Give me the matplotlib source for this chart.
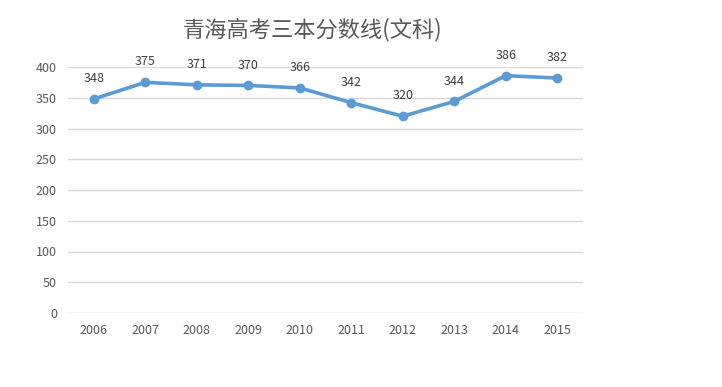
import matplotlib
matplotlib.use("Agg")
import matplotlib.pyplot as plt

plt.rcParams['font.family'] = ['Noto Sans CJK SC', 'DejaVu Sans']

years = ['2006', '2007', '2008', '2009', '2010', '2011', '2012', '2013', '2014', '2015']
scores = [348, 375, 371, 370, 366, 342, 320, 344, 386, 382]
yticks = [0, 50, 100, 150, 200, 250, 300, 350, 400]
title = '青海高考三本分数线(文科)'

fig = plt.figure(figsize=(7.22, 3.87), dpi=100)
ax = fig.add_axes([68/722, 1-313/387, 515/722, 246/387])
x = list(range(len(years)))
ax.plot(x, scores, color='#5B9BD5', linewidth=2.6, marker='o', markersize=6,
        solid_capstyle='round', zorder=3)
for xi, v in zip(x, scores):
    ax.annotate(str(v), (xi, v), xytext=(0, 10), textcoords='offset points',
                ha='center', va='bottom', fontsize=9, color='#404040')
ax.set_xlim(-0.5, len(years) - 0.5)
ax.set_ylim(0, 400)
ax.set_yticks(yticks)
ax.set_xticks(x)
ax.set_xticklabels(years)
ax.grid(axis='y', color='#D9D9D9', linewidth=1)
ax.set_axisbelow(True)
for s in ax.spines.values():
    s.set_visible(False)
ax.tick_params(length=0, labelsize=9, colors='#595959', pad=8)
ax.tick_params(axis='x', pad=8)
fig.text(313/722, 1-30/387, title, ha='center', va='center', fontsize=16, color='#595959')
fig.savefig('out.png', dpi=100)
